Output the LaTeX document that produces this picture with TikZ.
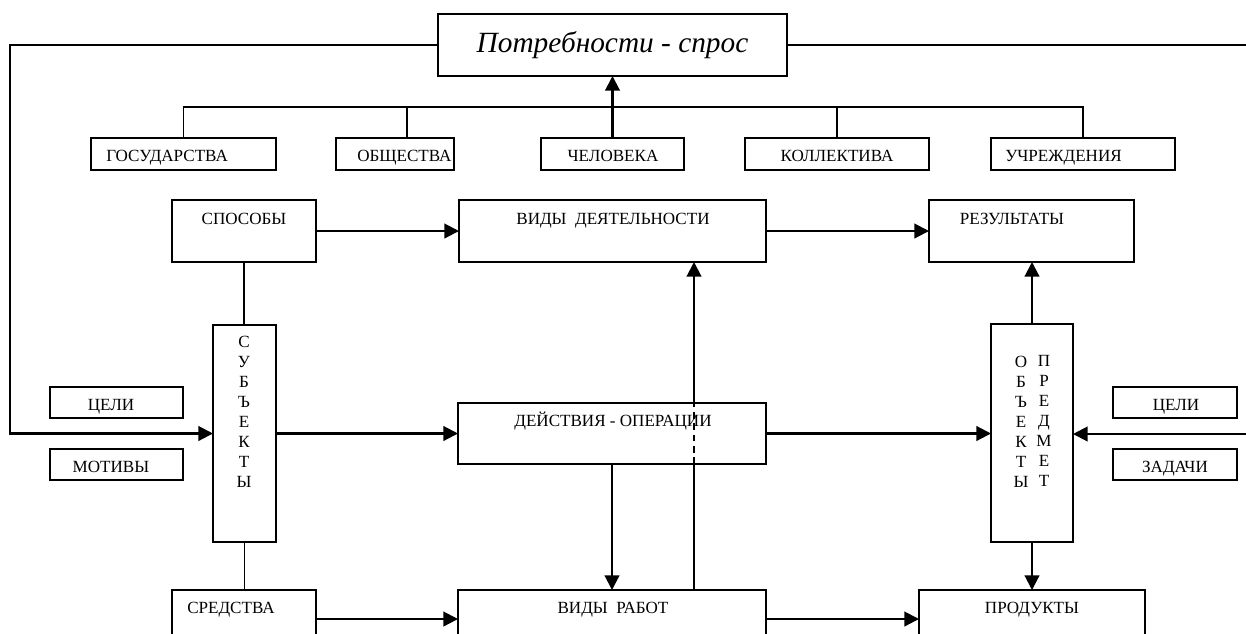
\documentclass[tikz,border=0pt]{standalone}
\usepackage{fontspec}
\setmainfont{Liberation Serif}
\usetikzlibrary{arrows.meta}
\newcommand\pxbox[5]{\node[box, minimum width={0.75pt*(#4-#2)}, minimum height={0.75pt*(#5-#3)}] (#1) at (#2,#3) {};}
\begin{document}
\begin{tikzpicture}[x=0.75pt,y=-0.75pt,
  box/.style={draw, line width=1.45pt, inner sep=0pt, outer sep=0pt, anchor=north west},
  txt/.style={inner sep=0pt, font=\fontsize{12.8}{15}\selectfont},
  arr/.style={line width=1.6pt, -{Triangle[length=11pt,width=11pt]}},
  bus/.style={line width=1.45pt},
  thinline/.style={line width=1.1pt}]
\useasboundingbox (0,0) rectangle (1246,633);
\clip (0,0) rectangle (1246,633);
\fill[white] (0,0) rectangle (1246,633);

% boxes
\pxbox{top}{438}{14}{787}{76}
\pxbox{gos}{91}{138}{276}{170}
\pxbox{obsh}{336}{138}{454}{170}
\pxbox{chel}{541}{138}{684}{170}
\pxbox{kol}{745}{138}{929}{170}
\pxbox{ucr}{991}{138}{1175}{170}
\pxbox{spos}{172}{200}{316}{262}
\pxbox{vdeyat}{459}{200}{766}{262}
\pxbox{rez}{929}{200}{1134}{262}
\pxbox{subj}{213}{325}{276}{542}
\pxbox{deist}{458}{403}{766}{464}
\pxbox{obj}{991}{324}{1073}{542}
\pxbox{celiL}{50}{387}{183}{418}
\pxbox{motiv}{50}{449}{183}{480}
\pxbox{celiR}{1113}{387}{1237}{418}
\pxbox{zadach}{1113}{449}{1237}{480}
\pxbox{sred}{172}{590}{316}{670}
\pxbox{vrab}{458}{590}{766}{670}
\pxbox{prod}{919}{590}{1145}{670}

% texts
\node[inner sep=0pt, anchor=base, font=\fontsize{22}{26}\selectfont\itshape] (t-top) at (612.5,52) {Потребности - спрос};
\node[txt, anchor=base west] (t-gos) at (106,161) {ГОСУДАРСТВА};
\node[txt, anchor=base west] (t-obsh) at (357,161) {ОБЩЕСТВА};
\node[txt, anchor=base] (t-chel) at (613,161) {ЧЕЛОВЕКА};
\node[txt, anchor=base] (t-kol) at (837,161) {КОЛЛЕКТИВА};
\node[txt, anchor=base west] (t-ucr) at (1005,161) {УЧРЕЖДЕНИЯ};
\node[txt, anchor=base] (t-spos) at (244,224) {СПОСОБЫ};
\node[txt, anchor=base] (t-vdeyat) at (613,224) {ВИДЫ\ \ ДЕЯТЕЛЬНОСТИ};
\node[txt, anchor=base] (t-rez) at (1012,224) {РЕЗУЛЬТАТЫ};
\node[txt, anchor=base] (t-deist) at (613,426) {ДЕЙСТВИЯ - ОПЕРАЦИИ};
\node[txt, anchor=base] (t-celiL) at (111,410) {ЦЕЛИ};
\node[txt, anchor=base] (t-motiv) at (111,472) {МОТИВЫ};
\node[txt, anchor=base] (t-celiR) at (1176,410) {ЦЕЛИ};
\node[txt, anchor=base] (t-zadach) at (1175,472) {ЗАДАЧИ};
\node[txt, anchor=base] (t-sred) at (231,613) {СРЕДСТВА};
\node[txt, anchor=base] (t-vrab) at (613,613) {ВИДЫ\ \ РАБОТ};
\node[txt, anchor=base] (t-prod) at (1032,613) {ПРОДУКТЫ};
\node[txt, anchor=north, align=center] (t-subj) at (244,335.5) {С\\У\\Б\\Ъ\\Е\\К\\Т\\Ы};
\node[txt, anchor=north, align=center] (t-obj) at (1021,355.5) {О\\Б\\Ъ\\Е\\К\\Т\\Ы};
\node[txt, anchor=north, align=center] (t-pred) at (1044,355.5) {П\\Р\\Е\\Д\\М\\Е\\Т};

% helper coordinates
\coordinate (lt) at (10,45);
\coordinate (rt) at (1250,45);
\coordinate (rin) at (1250,434);
\coordinate (busL) at (183,107);
\coordinate (bo) at (407,107);
\coordinate (vx) at (694,300);
\coordinate (by) at (0,619);

% connectors
\draw[arr] (top.west) -- (lt) |- (subj.west);
\draw[line width=1.6pt] (top.east) -- (rt);
\draw[arr] (rin) -- (rin -| obj.east);
\draw[bus] (gos.north) -- (gos.north |- busL) -- (ucr.north |- busL) -- (ucr.north);
\draw[bus] (obsh.north -| bo) -- (bo);
\draw[bus] (kol.north) -- (kol.north |- busL);
\draw[arr] (chel.north) -- (top.south);

\draw[arr] (spos.east) -- (vdeyat.west);
\draw[arr] (vdeyat.east) -- (rez.west);
\draw[thinline] (spos.south) -- (spos.south |- subj.north);
\draw[thinline] (subj.south) -- (subj.south |- sred.north);
\draw[arr] (subj.east) -- (subj.east -| deist.west);
\draw[arr] (deist.east) -- (deist.east -| obj.west);
\draw[arr] (obj.north) -- (obj.north |- rez.south);
\draw[arr] (obj.south) -- (obj.south |- prod.north);
\draw[arr] (deist.south) -- (deist.south |- vrab.north);
\draw[thinline] (vrab.north -| vx) -- (deist.south -| vx);
\draw[line width=1.4pt, dash pattern=on 5pt off 3.5pt] (deist.south -| vx) -- (deist.north -| vx);
\draw[arr] (deist.north -| vx) -- (vdeyat.south -| vx);
\draw[arr] (sred.east |- by) -- (vrab.west |- by);
\draw[arr] (vrab.east |- by) -- (prod.west |- by);
\end{tikzpicture}
\end{document}
